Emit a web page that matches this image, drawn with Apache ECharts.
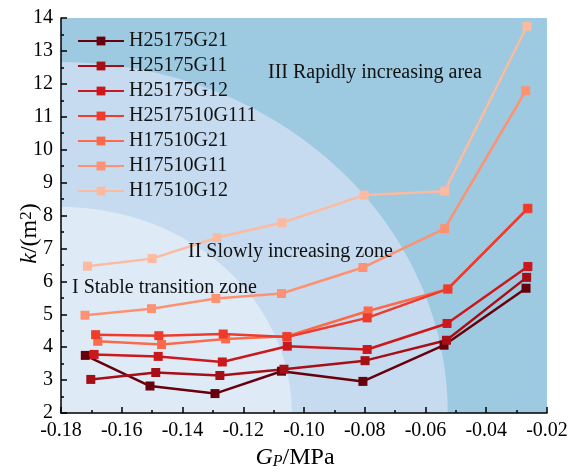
<!DOCTYPE html>
<html>
<head>
<meta charset="utf-8">
<script src="https://cdn.jsdelivr.net/npm/echarts@6/dist/echarts.min.js"></script>
<style>
  html, body { margin: 0; padding: 0; background: #fff; }
  #main { width: 575px; height: 475px; }
</style>
</head>
<body>
<div id="main"></div>
<script>
// series names / colours
const seriesNames = ['H25175G21', 'H25175G11', 'H25175G12', 'H2517510G111', 'H17510G21', 'H17510G11', 'H17510G12'];
const seriesColors = ['#67000d', '#a50f15', '#cb181d', '#ef3b2c', '#fb6a4a', '#fc9272', '#fcbba1'];

// Gp (MPa) and k values
const gpH25175G21 = [-0.1720, -0.1507, -0.1293, -0.1074, -0.0806, -0.0539, -0.0269];
const kH25175G21 = [3.75, 2.82, 2.59, 3.27, 2.96, 4.06, 5.79];
const gpH25175G11 = [-0.1702, -0.1488, -0.1277, -0.1066, -0.0799, -0.0531, -0.0267];
const kH25175G11 = [3.02, 3.23, 3.14, 3.33, 3.59, 4.21, 6.12];
const gpH25175G12 = [-0.1691, -0.1480, -0.1269, -0.1055, -0.0792, -0.0529, -0.0263];
const kH25175G12 = [3.78, 3.72, 3.55, 4.03, 3.93, 4.72, 6.45];
const gpH2517510G111 = [-0.1686, -0.1478, -0.1266, -0.1056, -0.0792, -0.0526, -0.0263];
const kH2517510G111 = [4.38, 4.35, 4.40, 4.31, 4.89, 5.77, 8.22];
const gpH17510G21 = [-0.1679, -0.1469, -0.1258, -0.1056, -0.0789, -0.0528, -0.0265];
const kH17510G21 = [4.18, 4.08, 4.25, 4.33, 5.10, 5.76, 8.20];
const gpH17510G11 = [-0.1721, -0.1502, -0.1290, -0.1074, -0.0806, -0.0537, -0.0270];
const kH17510G11 = [4.97, 5.17, 5.48, 5.63, 6.42, 7.60, 11.79];
const gpH17510G12 = [-0.1713, -0.1500, -0.1286, -0.1072, -0.0802, -0.0537, -0.0266];
const kH17510G12 = [6.46, 6.69, 7.33, 7.78, 8.62, 8.74, 13.75];

const allGp = [gpH25175G21, gpH25175G11, gpH25175G12, gpH2517510G111, gpH17510G21, gpH17510G11, gpH17510G12];
const allK = [kH25175G21, kH25175G11, kH25175G12, kH2517510G111, kH17510G21, kH17510G11, kH17510G12];

// background zones: outer reach of each quarter ellipse from (-0.18, 2)
const zoneGp = [-0.0527, -0.1040];
const zoneK = [12.66, 8.26];
const zoneColors = ['#c6dbef', '#deebf7'];

const font = 'Liberation Serif';

let chart = echarts.init(document.getElementById('main'));

let lineSeries = seriesNames.map((name, i) => ({
  name: name,
  type: 'line',
  data: allGp[i].map((x, j) => [x, allK[i][j]]),
  symbol: 'rect',
  symbolSize: 9,
  z: name === 'H2517510G111' ? 4 : 3,
  itemStyle: { color: seriesColors[i] },
  lineStyle: { color: seriesColors[i], width: 2.5 },
  emphasis: { disabled: true },
  animation: false
}))

// shared axis bits
let axisLine = { onZero: false, lineStyle: { color: '#000', width: 1.5 } }
  , axisTick = { inside: true, length: 6, lineStyle: { color: '#000', width: 1.5 } }
  , minorTick = { show: true, splitNumber: 2, length: 3, lineStyle: { color: '#000', width: 1.5 } }

chart.setOption({
  animation: false,
  textStyle: { fontFamily: font },
  grid: {
    left: 61, right: 28, top: 18, bottom: 62,
    outerBoundsMode: 'none',
    containLabel: false,
    show: true,
    backgroundColor: '#9ecae1',
    borderWidth: 0
  },
  legend: {
    data: seriesNames,
    orient: 'vertical',
    left: 77,
    top: 31,
    padding: 0,
    itemWidth: 46,
    itemHeight: 11,
    itemGap: 5,
    textStyle: { fontFamily: font, fontSize: 20, color: '#111' }
  },
  xAxis: {
    type: 'value',
    z: 10,
    min: -0.18,
    max: -0.02,
    interval: 0.02,
    name: '{i|G}{s|P}{n|/MPa}',
    nameLocation: 'middle',
    nameMoveOverlap: false,
    nameGap: 33,
    nameTextStyle: {
      padding: [0, 18, 0, 0],
      rich: {
        i: { fontFamily: font, fontSize: 24, fontStyle: 'italic', lineHeight: 24, verticalAlign: 'top', color: '#000' },
        s: { fontFamily: font, fontSize: 16, fontStyle: 'italic', lineHeight: 16, verticalAlign: 'bottom', color: '#000' },
        n: { fontFamily: font, fontSize: 24, lineHeight: 24, verticalAlign: 'top', color: '#000' }
      }
    },
    axisLine: axisLine,
    axisTick: axisTick,
    minorTick: minorTick,
    splitLine: { show: false },
    axisLabel: {
      fontFamily: font, fontSize: 20, color: '#000', margin: 8,
      formatter: v => v.toFixed(2)
    }
  },
  yAxis: {
    type: 'value',
    z: 10,
    min: 2,
    max: 14,
    interval: 1,
    name: '{i|k}{n|/(m}{s|2}{n|)}',
    nameLocation: 'middle',
    nameRotate: 90,
    nameMoveOverlap: false,
    nameGap: 19,
    nameTextStyle: {
      padding: [0, 36, 0, 0],
      rich: {
        i: { fontFamily: font, fontSize: 24, fontStyle: 'italic', lineHeight: 24, verticalAlign: 'bottom', color: '#000' },
        n: { fontFamily: font, fontSize: 24, lineHeight: 24, verticalAlign: 'bottom', color: '#000' },
        s: { fontFamily: font, fontSize: 17, lineHeight: 17, verticalAlign: 'top', color: '#000' }
      }
    },
    axisLine: axisLine,
    axisTick: axisTick,
    minorTick: minorTick,
    splitLine: { show: false },
    axisLabel: { fontFamily: font, fontSize: 20, color: '#000', margin: 8 }
  },
  graphic: [
    { type: 'text', left: 268, top: 63, z: 10, style: { text: 'III Rapidly increasing area', fontFamily: font, fontSize: 20, fill: '#111' } },
    { type: 'text', left: 188, top: 242, z: 10, style: { text: 'II Slowly increasing zone', fontFamily: font, fontSize: 20, fill: '#111' } },
    { type: 'text', left: 72, top: 278, z: 10, style: { text: 'I Stable transition zone', fontFamily: font, fontSize: 20, fill: '#111' } }
  ],
  series: [
    {
      type: 'custom',
      name: 'zones',
      silent: true,
      z: 1,
      data: zoneGp.map((x, i) => [x, zoneK[i]]),
      renderItem(params, api) {
        let o = api.coord([-0.18, 2])
          , e = api.coord([api.value(0), api.value(1)])
          , a = e[0] - o[0]
          , b = o[1] - e[1]
          , pts = [[o[0], o[1]]]
        for (let t = 0; t <= 90; t++) {
          let ang = t / 90 * Math.PI / 2
          pts.push([o[0] + a * Math.cos(ang), o[1] - b * Math.sin(ang)])
        }
        return {
          type: 'polygon',
          shape: { points: pts },
          style: { fill: zoneColors[params.dataIndex] }
        }
      }
    },
    ...lineSeries
  ]
});
</script>
</body>
</html>
